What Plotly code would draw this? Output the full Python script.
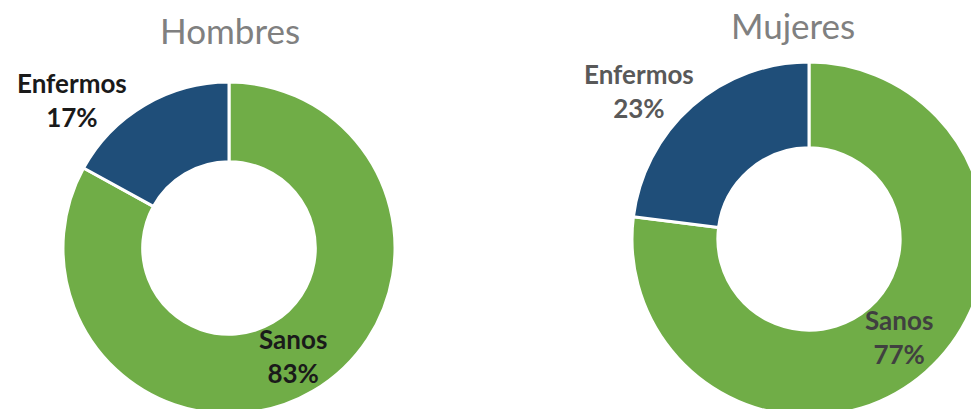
import plotly.graph_objects as go

# Data
categories = ["Sanos", "Enfermos"]
hombres = [83, 17]
mujeres = [77, 23]
titles = ["Hombres", "Mujeres"]
colors = ["#70AD47", "#1F4E79"]

W, H = 990, 420

def dom(cx, cy, r):
    return dict(x=[(cx - r) / W, (cx + r) / W],
                y=[1 - (cy + r) / H, 1 - (cy - r) / H])

fig = go.Figure()
fig.add_trace(go.Pie(labels=categories, values=hombres, hole=0.52, sort=False,
                     direction="clockwise", rotation=0, textinfo="none",
                     marker=dict(colors=colors, line=dict(color="white", width=3)),
                     domain=dom(229, 248, 166), showlegend=False, hoverinfo="label+percent"))
fig.add_trace(go.Pie(labels=categories, values=mujeres, hole=0.515, sort=False,
                     direction="clockwise", rotation=0, textinfo="none",
                     marker=dict(colors=colors, line=dict(color="white", width=3)),
                     domain=dom(809, 239, 177), showlegend=False, hoverinfo="label+percent"))

def ann(px, py, text, size, color, bold=False):
    fig.add_annotation(x=px / W, y=1 - py / H, xref="paper", yref="paper",
                       text=f"<b>{text}</b>" if bold else text, showarrow=False,
                       xanchor="center", yanchor="middle",
                       font=dict(family="Lato", size=size, color=color))

# Titles
ann(230, 30, titles[0], 35, "#808080")
ann(793, 25, titles[1], 35, "#808080")

# Labels
ann(72, 100, f"{categories[1]}<br>{hombres[1]}%", 26, "#1a1a1a", True)
ann(293, 356, f"{categories[0]}<br>{hombres[0]}%", 26, "#1a1a1a", True)
ann(639, 91, f"{categories[1]}<br>{mujeres[1]}%", 26, "#595959", True)
ann(899, 337, f"{categories[0]}<br>{mujeres[0]}%", 26, "#404040", True)

fig.update_layout(width=W, height=H, margin=dict(l=0, r=0, t=0, b=0),
                  paper_bgcolor="white", plot_bgcolor="white")

fig.write_html("out.html",
               post_script="document.body.style.margin='0';document.body.style.overflow='hidden';document.documentElement.style.overflow='hidden';")
